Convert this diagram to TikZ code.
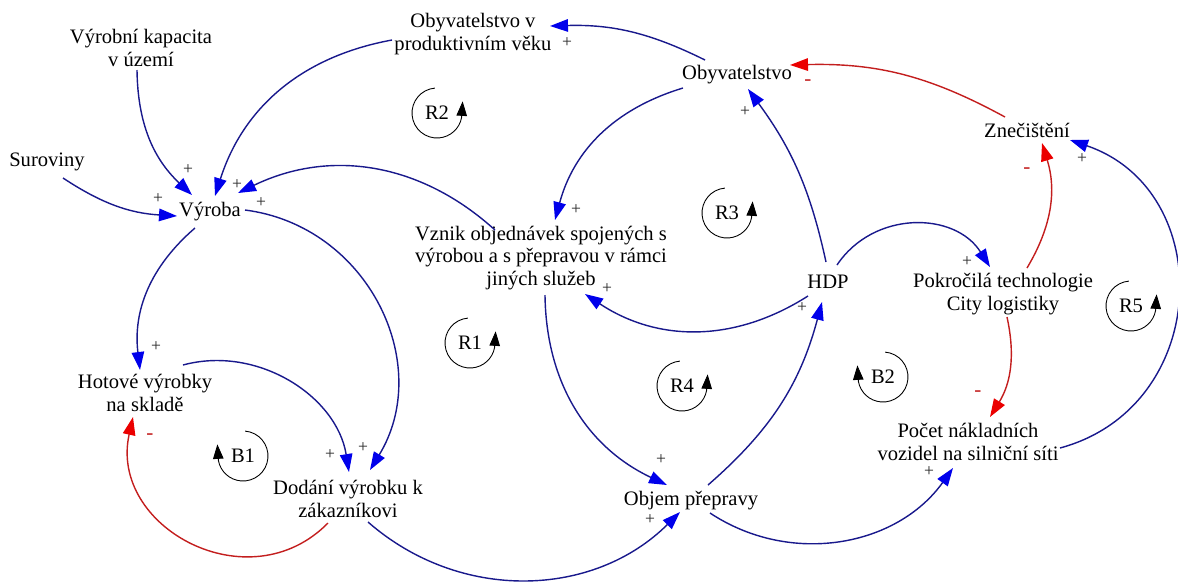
\documentclass[tikz,border=0pt]{standalone}
\usepackage{fontspec}
\setmainfont{Liberation Serif}
\usetikzlibrary{arrows.meta, calc}

\definecolor{linkblue}{RGB}{25,25,140}
\definecolor{headblue}{RGB}{0,0,235}
\definecolor{linkred}{RGB}{195,30,30}
\definecolor{headred}{RGB}{235,0,0}

\begin{document}
\begin{tikzpicture}[
    x=0.02cm,
    y=0.02cm,
    var/.style={
        align=center,
        inner sep=1pt,
        font=\fontsize{11.7}{13}\selectfont
    },
    poslink/.style={
        draw=linkblue,
        line width=0.8pt,
        -{Triangle[color=headblue, length=0.36cm, width=0.25cm]}
    },
    neglink/.style={
        draw=linkred,
        line width=0.8pt,
        -{Triangle[color=headred, length=0.36cm, width=0.25cm]}
    },
    plus/.style={
        inner sep=0pt,
        text=black!85,
        font=\fontsize{10}{10}\selectfont
    },
    minus/.style={
        inner sep=0pt,
        text=linkred,
        font=\fontsize{12}{12}\selectfont
    },
    looplabel/.style={
        inner sep=1pt,
        font=\fontsize{11.7}{13}\selectfont
    },
    looparrow/.style={
        line width=0.5pt,
        -{Triangle[length=0.29cm, width=0.21cm]}
    }
]
\useasboundingbox (0,0) rectangle (1178,-583);

% Variables
\node[var] (kap) at (141,-48) {Výrobní kapacita\\v území};
\node[var] (sur) at (47,-162) {Suroviny};
\node[var] (vyr) at (210,-212) {Výroba};
\node[var] (obp) at (473,-34) {Obyvatelstvo v\\produktivním věku};
\node[var] (oby) at (737,-75) {Obyvatelstvo};
\node[var] (zne) at (1027,-130) {Znečištění};
\node[var] (vzn) at (541,-258) {Vznik objednávek spojených s\\výrobou a s přepravou v rámci\\jiných služeb};
\node[var] (hdp) at (828,-282) {HDP};
\node[var] (pok) at (1003,-294) {Pokročilá technologie\\City logistiky};
\node[var] (hot) at (145,-393) {Hotové výrobky\\na skladě};
\node[var] (dod) at (348,-499) {Dodání výrobku k\\zákazníkovi};
\node[var] (obj) at (691,-501) {Objem přepravy};
\node[var] (poc) at (968,-442) {Počet nákladních\\vozidel na silniční síti};

% Loops
\foreach \name/\x/\y in {R1/470/-343, R2/437/-113, R3/727/-213, R4/682/-386, R5/1131/-306} {
    \node[looplabel] (\name) at (\x,\y) {\name};
    \draw[looparrow] ($(\name)+(95:25)$) arc[start angle=95, end angle=350, radius=0.5cm] -- ++(1,16);
}
\foreach \name/\x/\y in {B1/243/-456, B2/883/-377} {
    \node[looplabel] (\name) at (\x,\y) {\name};
    \draw[looparrow] ($(\name)+(85:25)$) arc[start angle=85, end angle=-170, radius=0.5cm] -- ++(-1,16);
}

% Links
\draw[poslink] ($(kap)+(-4,-22)$) to[bend right=23] ($(vyr)+(-18,17)$);
\draw[poslink] ($(sur)+(16,-16)$) to[bend right=15] ($(vyr)+(-33,-4)$);
\draw[poslink] ($(obp)+(-81,-6)$) to[bend right=31] ($(vyr)+(5,16)$);
\draw[poslink] ($(vzn)+(-46,28)$) to[bend right=34] ($(vyr)+(28,19)$);
\draw[poslink] ($(vyr)+(-15,-16)$) to[bend right=28] ($(hot)+(-5,23)$);
\draw[poslink] ($(vyr)+(35,2)$) to[bend left=57, looseness=1.1] ($(dod)+(22,29)$);
\draw[poslink] ($(hot)+(38,28)$) to[bend left=48] ($(dod)+(1,27)$);
\draw[neglink] ($(dod)+(-20,-24)$) to[bend left=74, looseness=1.3] ($(hot)+(-12,-24)$);
\draw[poslink] ($(dod)+(20,-23)$) to[bend right=43] ($(obj)+(-11,-11)$);
\draw[poslink] ($(vzn)+(4,-37)$) to[bend right=32] ($(obj)+(-24,16)$);
\draw[poslink] ($(obj)+(17,16)$) to[bend right=17] ($(hdp)+(-6,-20)$);
\draw[poslink] ($(hdp)+(-20,-14)$) to[bend left=33] ($(vzn)+(44,-36)$);
\draw[poslink] ($(hdp)+(-2,20)$) to[bend right=12] ($(oby)+(11,-14)$);
\draw[poslink] ($(oby)+(-54,-13)$) to[bend right=29] ($(vzn)+(14,38)$);
\draw[poslink] ($(oby)+(-32,15)$) to[bend right=14] ($(obp)+(77,8)$);
\draw[neglink] ($(zne)+(-22,13)$) to[bend right=15] ($(oby)+(53,10)$);
\draw[poslink] ($(hdp)+(9,17)$) to[bend left=57, looseness=1.1] ($(pok)+(-13,27)$);
\draw[neglink] ($(pok)+(24,26)$) to[bend right=24] ($(zne)+(15,-13)$);
\draw[neglink] ($(pok)+(4,-23)$) to[bend left=22] ($(poc)+(22,25)$);
\draw[poslink] ($(obj)+(19,-12)$) to[bend right=44] ($(poc)+(-15,-26)$);
\draw[poslink] ($(poc)+(92,-6)$) to[bend right=73, looseness=1.3] ($(zne)+(43,-10)$);

% Polarities
\foreach \x/\y in {188/-170, 158/-199, 237/-185, 261/-203, 156/-347, 363/-448, 330/-455,
    650/-520, 661/-460, 802/-308, 607/-289, 745/-112, 576/-210, 567/-43, 967/-262,
    929/-472, 1082/-159}
    \node[plus] at (\x,\y) {+};
\foreach \x/\y in {150/-437, 808/-83, 1027/-171, 978/-394}
    \node[minus] at (\x,\y) {-};

\end{tikzpicture}
\end{document}
